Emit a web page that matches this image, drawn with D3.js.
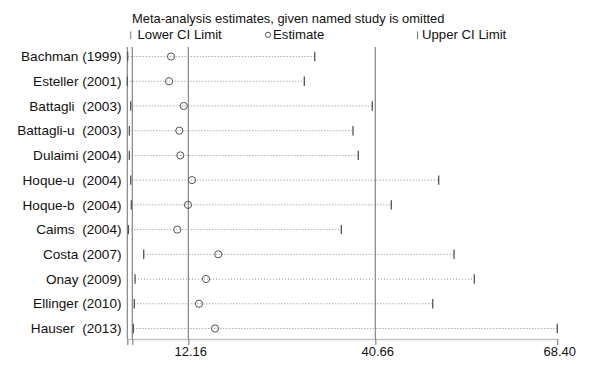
<!DOCTYPE html>
<html>
<head>
<meta charset="utf-8">
<script src="https://cdn.jsdelivr.net/npm/d3@7"></script>
<style>
  body { margin: 0; background: #fff; }
  svg text { font-family: "Liberation Sans", Arial, sans-serif; fill: #111; }
</style>
</head>
<body>
<div id="chart"></div>
<script>
// study omitted in each row
var studies = ["Bachman (1999)", "Esteller (2001)", "Battagli  (2003)", "Battagli-u  (2003)",
    "Dulaimi (2004)", "Hoque-u  (2004)", "Hoque-b  (2004)", "Caims  (2004)",
    "Costa (2007)", "Onay (2009)", "Ellinger (2010)", "Hauser  (2013)"];
var estimates = [9.52, 9.22, 11.46, 10.79, 10.94, 12.72, 12.11, 10.48, 16.73, 14.86, 13.79, 16.23];
var lowerCI = [2.92, 2.86, 3.38, 3.17, 3.17, 3.38, 3.47, 3.02, 5.36, 4.04, 3.93, 3.78];
var upperCI = [31.43, 29.84, 40.20, 37.26, 38.07, 50.32, 43.10, 35.48, 52.66, 55.75, 49.41, 68.40];

// full-data estimate and reference lines
var refLines = [2.86, 3.62, 12.16, 40.66];
var tickValues = [2.86, 3.62, 12.16, 40.66, 68.40];
var tickLabels = ["", "", "12.16", "40.66", "68.40"];

var title = "Meta-analysis estimates, given named study is omitted";

var width = 600, height = 368;
var svg = d3.select("#chart").append("svg")
    .attr("width", width)
    .attr("height", height);

var x = d3.scaleLinear()
    .domain([2.86, 68.40])
    .range([127.3, 557.3]);
var y = d3.scalePoint()
    .domain(studies)
    .range([56.5, 328.5]);
var axisY = 339;

var rows = studies.map(function (s, i) {
    return { name: s, est: estimates[i], lo: lowerCI[i], hi: upperCI[i] };
});

// title + legend
svg.append("text")
    .attr("x", 132)
    .attr("y", 23)
    .attr("font-size", "12.9px")
    .text(title);

var legend = svg.append("g");
legend.append("line")
    .attr("x1", 130.7).attr("x2", 130.7)
    .attr("y1", 31.5).attr("y2", 39)
    .attr("stroke", "#777");
legend.append("text")
    .attr("x", 137.5).attr("y", 38.5)
    .attr("font-size", "13.2px")
    .text("Lower CI Limit");
legend.append("circle")
    .attr("cx", 268).attr("cy", 34.8)
    .attr("r", 2.6)
    .attr("fill", "none")
    .attr("stroke", "#555");
legend.append("text")
    .attr("x", 273).attr("y", 38.5)
    .attr("font-size", "13.2px")
    .text("Estimate");
legend.append("line")
    .attr("x1", 417.5).attr("x2", 417.5)
    .attr("y1", 31.5).attr("y2", 39)
    .attr("stroke", "#777");
legend.append("text")
    .attr("x", 422).attr("y", 38.5)
    .attr("font-size", "13.2px")
    .text("Upper CI Limit");

// reference lines
svg.selectAll(".ref")
    .data(refLines)
    .enter()
    .append("line")
    .attr("class", "ref")
    .attr("x1", function (d) { return x(d); })
    .attr("x2", function (d) { return x(d); })
    .attr("y1", 47)
    .attr("y2", axisY)
    .attr("stroke", "#7a7a7a")
    .attr("stroke-width", 1.1);

// axis
var xAxisCall = d3.axisBottom(x)
    .tickValues(tickValues)
    .tickSize(6)
    .tickSizeOuter(0)
    .tickPadding(2)
    .tickFormat(function (d, i) { return tickLabels[i]; });
var xAxis = svg.append("g")
    .attr("transform", "translate(0," + axisY + ")")
    .call(xAxisCall);
xAxis.select(".domain")
    .attr("stroke", "#c4c4c4")
    .attr("stroke-width", 1.5);
xAxis.selectAll(".tick line")
    .attr("stroke", "#7a7a7a")
    .attr("stroke-width", 1.1);
xAxis.selectAll(".tick text")
    .attr("font-size", "13px")
    .attr("font-family", "Liberation Sans, Arial, sans-serif")
    .attr("fill", "#111")
    .attr("dx", 2);

// study labels
svg.selectAll(".label")
    .data(rows)
    .enter()
    .append("text")
    .attr("class", "label")
    .attr("x", 121.5)
    .attr("y", function (d) { return y(d.name) + 4.7; })
    .attr("text-anchor", "end")
    .attr("font-size", "13.6px")
    .style("white-space", "pre")
    .text(function (d) { return d.name; });

// dotted CI lines
svg.selectAll(".ci")
    .data(rows)
    .enter()
    .append("line")
    .attr("class", "ci")
    .attr("x1", function (d) { return x(d.lo); })
    .attr("x2", function (d) { return x(d.hi); })
    .attr("y1", function (d) { return y(d.name); })
    .attr("y2", function (d) { return y(d.name); })
    .attr("stroke", "#8a8a8a")
    .attr("stroke-width", 1)
    .attr("stroke-dasharray", "1,2");

// lower / upper bars
[["lo", lowerCI], ["hi", upperCI]].forEach(function (k) {
    svg.selectAll(".bar-" + k[0])
        .data(rows)
        .enter()
        .append("line")
        .attr("class", "bar-" + k[0])
        .attr("x1", function (d) { return x(d[k[0]]); })
        .attr("x2", function (d) { return x(d[k[0]]); })
        .attr("y1", function (d) { return y(d.name) - 4.7; })
        .attr("y2", function (d) { return y(d.name) + 4.7; })
        .attr("stroke", "#555")
        .attr("stroke-width", 1.3);
});

// estimates
svg.selectAll(".est")
    .data(rows)
    .enter()
    .append("circle")
    .attr("class", "est")
    .attr("cx", function (d) { return x(d.est); })
    .attr("cy", function (d) { return y(d.name); })
    .attr("r", 3.6)
    .attr("fill", "none")
    .attr("stroke", "#555")
    .attr("stroke-width", 1);
</script>
</body>
</html>
